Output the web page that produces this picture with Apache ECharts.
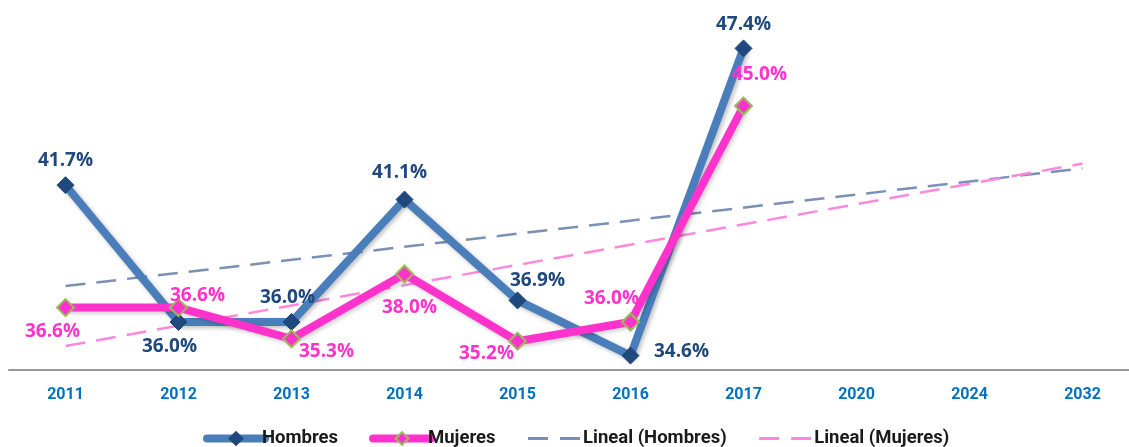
<!DOCTYPE html>
<html>
<head>
<meta charset="utf-8">
<script src="https://cdn.jsdelivr.net/npm/echarts@6/dist/echarts.min.js"></script>
<style>
  html, body { margin: 0; padding: 0; background: #fff; }
  #chart { width: 1129px; height: 447px; }
</style>
</head>
<body>
<div id="chart"></div>
<script>
// Years on the category axis (the last three are forecast periods of the trend lines)
const years = ['2011', '2012', '2013', '2014', '2015', '2016', '2017', '2020', '2024', '2032'];
// Percentages per group, 2011-2017
const hombres = [41.7, 36.0, 36.0, 41.1, 36.9, 34.6, 47.4];
const mujeres = [36.6, 36.6, 35.3, 38.0, 35.2, 36.0, 45.0];
// Linear trend lines: value at 2011 and at 2032
const linealHombres = [37.5, 42.4];
const linealMujeres = [35.0, 42.6];

// Label placement around each point (dx, dy in pixels)
const hombresLabelShift = [[0, -25], [-9, 25], [-4, -24], [-5, -27], [20, -20], [51, -4], [0, -24]];
const mujeresLabelShift = [[-13, 24], [19, -12], [35, 13], [5, 34], [-31, 12], [-19, -23], [16, -31]];

const blueLine = '#4a7ebb';
const blueMark = '#1f497d';
const pink = '#ff33cc';
const green = '#9bbb59';
const trendBlue = '#7891b5';
const trendPink = '#ff88dd';

function pointsWithLabels(values, shifts, color) {
  return values.map((v, i) => ({
    value: v,
    label: {
      show: true,
      position: 'inside',
      offset: shifts[i],
      color: color,
      fontFamily: 'Open Sans',
      fontWeight: 'bold',
      fontSize: 19,
      formatter: p => p.value.toFixed(1) + '%'
    }
  }));
}

const chart = echarts.init(document.getElementById('chart'), null, { renderer: 'canvas' });
chart.setOption({
  animation: false,
  backgroundColor: '#ffffff',
  grid: { left: 9, width: 1130, top: 10, bottom: 77, containLabel: false, outerBoundsMode: 'none' },
  xAxis: {
    type: 'category',
    data: years,
    boundaryGap: true,
    axisLine: { show: true, lineStyle: { color: '#999999', width: 2 } },
    axisTick: { show: false },
    axisLabel: {
      color: '#0070c0',
      fontFamily: 'Roboto',
      fontWeight: 'bold',
      fontSize: 16,
      margin: 17
    },
    splitLine: { show: false }
  },
  yAxis: {
    type: 'value',
    min: 34,
    max: 49,
    show: false,
    splitLine: { show: false }
  },
  legend: {
    data: [
      { name: 'Hombres', lineStyle: { width: 8, cap: 'round' } },
      { name: 'Mujeres', lineStyle: { width: 8, cap: 'round' } },
      { name: 'Lineal (Hombres)', itemStyle: { opacity: 0 }, lineStyle: { width: 3, type: [20, 12] } },
      { name: 'Lineal (Mujeres)', itemStyle: { opacity: 0 }, lineStyle: { width: 3, type: [20, 12] } }
    ],
    left: 203,
    top: 429,
    padding: 0,
    itemWidth: 58,
    itemHeight: 16,
    itemGap: 31,
    textStyle: {
      color: '#1a1a1a',
      fontFamily: 'Roboto',
      fontWeight: 'bold',
      fontSize: 18.5,
      padding: [0, 0, 0, -8]
    }
  },
  series: [
    {
      name: 'Lineal (Hombres)',
      type: 'line',
      z: 1,
      symbol: 'none',
      data: [[0, linealHombres[0]], [years.length - 1, linealHombres[1]]],
      lineStyle: { color: trendBlue, width: 2.5, type: [20, 11] },
      itemStyle: { color: trendBlue }
    },
    {
      name: 'Lineal (Mujeres)',
      type: 'line',
      z: 1,
      symbol: 'none',
      data: [[0, linealMujeres[0]], [years.length - 1, linealMujeres[1]]],
      lineStyle: { color: trendPink, width: 2.5, type: [20, 11] },
      itemStyle: { color: trendPink }
    },
    {
      name: 'Hombres',
      type: 'line',
      z: 3,
      symbol: 'diamond',
      symbolSize: 17,
      data: pointsWithLabels(hombres, hombresLabelShift, blueMark),
      lineStyle: {
        color: blueLine, width: 8,
        shadowColor: 'rgba(0,0,0,0.25)', shadowBlur: 4, shadowOffsetX: 2, shadowOffsetY: 2
      },
      itemStyle: { color: blueMark, borderColor: blueMark, borderWidth: 1 },
      emphasis: { disabled: true }
    },
    {
      name: 'Mujeres',
      type: 'line',
      z: 4,
      symbol: 'diamond',
      symbolSize: 17,
      data: pointsWithLabels(mujeres, mujeresLabelShift, pink),
      lineStyle: {
        color: pink, width: 8,
        shadowColor: 'rgba(0,0,0,0.2)', shadowBlur: 4, shadowOffsetX: 2, shadowOffsetY: 2
      },
      itemStyle: { color: pink, borderColor: green, borderWidth: 2 },
      emphasis: { disabled: true }
    }
  ]
});
</script>
</body>
</html>
